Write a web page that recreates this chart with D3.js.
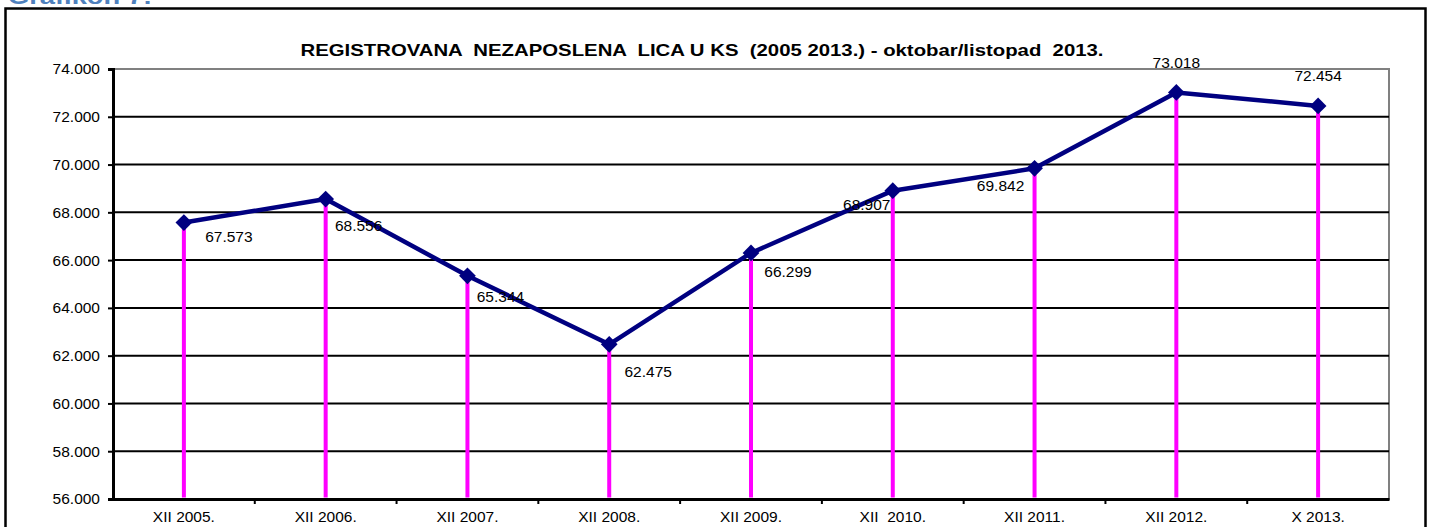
<!DOCTYPE html>
<html>
<head>
<meta charset="utf-8">
<script src="https://cdn.jsdelivr.net/npm/d3@7"></script>
<style>
  html, body { margin: 0; padding: 0; background: #fff; }
  svg { display: block; }
  text { font-family: "Liberation Sans", Arial, sans-serif; }
</style>
</head>
<body>
<svg id="chart" width="1436" height="527"></svg>
<script>
// ---- data ----
const categories = ["XII 2005.", "XII 2006.", "XII 2007.", "XII 2008.", "XII 2009.", "XII  2010.", "XII 2011.", "XII 2012.", "X 2013."];
const values = [67573, 68556, 65344, 62475, 66299, 68907, 69842, 73018, 72454];
const yTicks = [56000, 58000, 60000, 62000, 64000, 66000, 68000, 70000, 72000, 74000];
const title = "REGISTROVANA  NEZAPOSLENA  LICA U KS  (2005 2013.) - oktobar/listopad  2013.";
const caption = "Grafikon 7:";
// label offsets (layout only): text centre relative to point
const labelDx = [45, 33, 33, 39, 37, -26, -34, 0, 0];
const labelDy = [14, 27, 21, 27, 19, 14, 17, -30, -30];

(function () {
const svg = d3.select("#chart");
const fmt = v => d3.format(",")(v).replace(/,/g, ".");
const fmtTick = v => d3.format(",.0f")(v).replace(/,/g, ".");

// caption (clipped at top, as in the reference)
svg.append("text").attr("x", 8).attr("y", 4)
  .attr("font-family", "'DejaVu Serif', 'Liberation Serif', serif")
  .attr("font-weight", "bold").attr("font-size", 22)
  .attr("fill", "#4f81bd")
  .attr("textLength", 144).attr("lengthAdjust", "spacingAndGlyphs")
  .text(caption);

// outer frame
svg.append("rect").attr("x", 5.5).attr("y", 8.5).attr("width", 1420).attr("height", 540)
  .attr("fill", "none").attr("stroke", "#000").attr("stroke-width", 2.5);

const pLeft = 113, pRight = 1389, pTop = 69, pBottom = 499;

const x = d3.scaleBand().domain(categories).range([pLeft, pRight]);
const y = d3.scaleLinear().domain([56000, 74000]).range([pBottom, pTop]);

// plot area border (gray)
svg.append("rect").attr("x", pLeft).attr("y", pTop).attr("width", pRight - pLeft).attr("height", pBottom - pTop)
  .attr("fill", "none").attr("stroke", "#808080").attr("stroke-width", 2);

// gridlines
svg.append("g").selectAll("line").data(yTicks.filter(t => t > 56000 && t < 74000)).join("line")
  .attr("x1", pLeft).attr("x2", pRight)
  .attr("y1", d => y(d)).attr("y2", d => y(d))
  .attr("stroke", "#000").attr("stroke-width", 2);

// y axis
const yAxis = d3.axisLeft(y).tickValues(yTicks).tickFormat(fmtTick).tickSize(5).tickPadding(8);
const gy = svg.append("g").attr("transform", `translate(${pLeft},0)`).call(yAxis);
gy.select(".domain").attr("stroke", "#000").attr("stroke-width", 3);
gy.selectAll(".tick line").attr("stroke", "#000").attr("stroke-width", 2);
gy.selectAll(".tick text").attr("font-size", 15.5).attr("fill", "#000")
  .attr("font-family", "'Liberation Sans', Arial, sans-serif");

// x axis: ticks between categories
const xAxis = d3.axisBottom(x).tickSize(0).tickPadding(12);
const gx = svg.append("g").attr("transform", `translate(0,${pBottom})`).call(xAxis);
gx.select(".domain").attr("stroke", "#000").attr("stroke-width", 3);
gx.selectAll(".tick text").attr("font-size", 15.5).attr("fill", "#000")
  .attr("font-family", "'Liberation Sans', Arial, sans-serif")
  .style("white-space", "pre");
const boundaries = categories.slice(1).map(c => x(c));
svg.append("g").selectAll("line").data(boundaries).join("line")
  .attr("x1", d => d).attr("x2", d => d)
  .attr("y1", pBottom).attr("y2", pBottom + 5)
  .attr("stroke", "#000").attr("stroke-width", 2);

const cx = c => x(c) + x.bandwidth() / 2;

// drop lines
svg.append("g").selectAll("line").data(values).join("line")
  .attr("x1", (d, i) => cx(categories[i])).attr("x2", (d, i) => cx(categories[i]))
  .attr("y1", d => y(d)).attr("y2", pBottom - 1.5)
  .attr("stroke", "#ff00ff").attr("stroke-width", 4);

// line
const line = d3.line().x((d, i) => cx(categories[i])).y(d => y(d));
svg.append("path").datum(values).attr("d", line)
  .attr("fill", "none").attr("stroke", "#000080").attr("stroke-width", 4.5)
  .attr("stroke-linejoin", "round");

// markers (diamonds)
const sym = d3.symbol().type(d3.symbolSquare).size(140);
svg.append("g").selectAll("path").data(values).join("path")
  .attr("d", sym)
  .attr("transform", (d, i) => `translate(${cx(categories[i])},${y(d)}) rotate(45)`)
  .attr("fill", "#000080");

// data labels
svg.append("g").selectAll("text").data(values).join("text")
  .attr("x", (d, i) => cx(categories[i]) + labelDx[i])
  .attr("y", (d, i) => y(d) + labelDy[i])
  .attr("dy", "0.35em")
  .attr("text-anchor", "middle")
  .attr("font-size", 15.5).attr("fill", "#000")
  .text(d => fmt(d));

// title
svg.append("text").attr("x", 702).attr("y", 56)
  .attr("text-anchor", "middle")
  .attr("font-weight", "bold").attr("font-size", 16.5)
  .attr("textLength", 803).attr("lengthAdjust", "spacingAndGlyphs")
  .style("white-space", "pre")
  .text(title);
})();
</script>
</body>
</html>
